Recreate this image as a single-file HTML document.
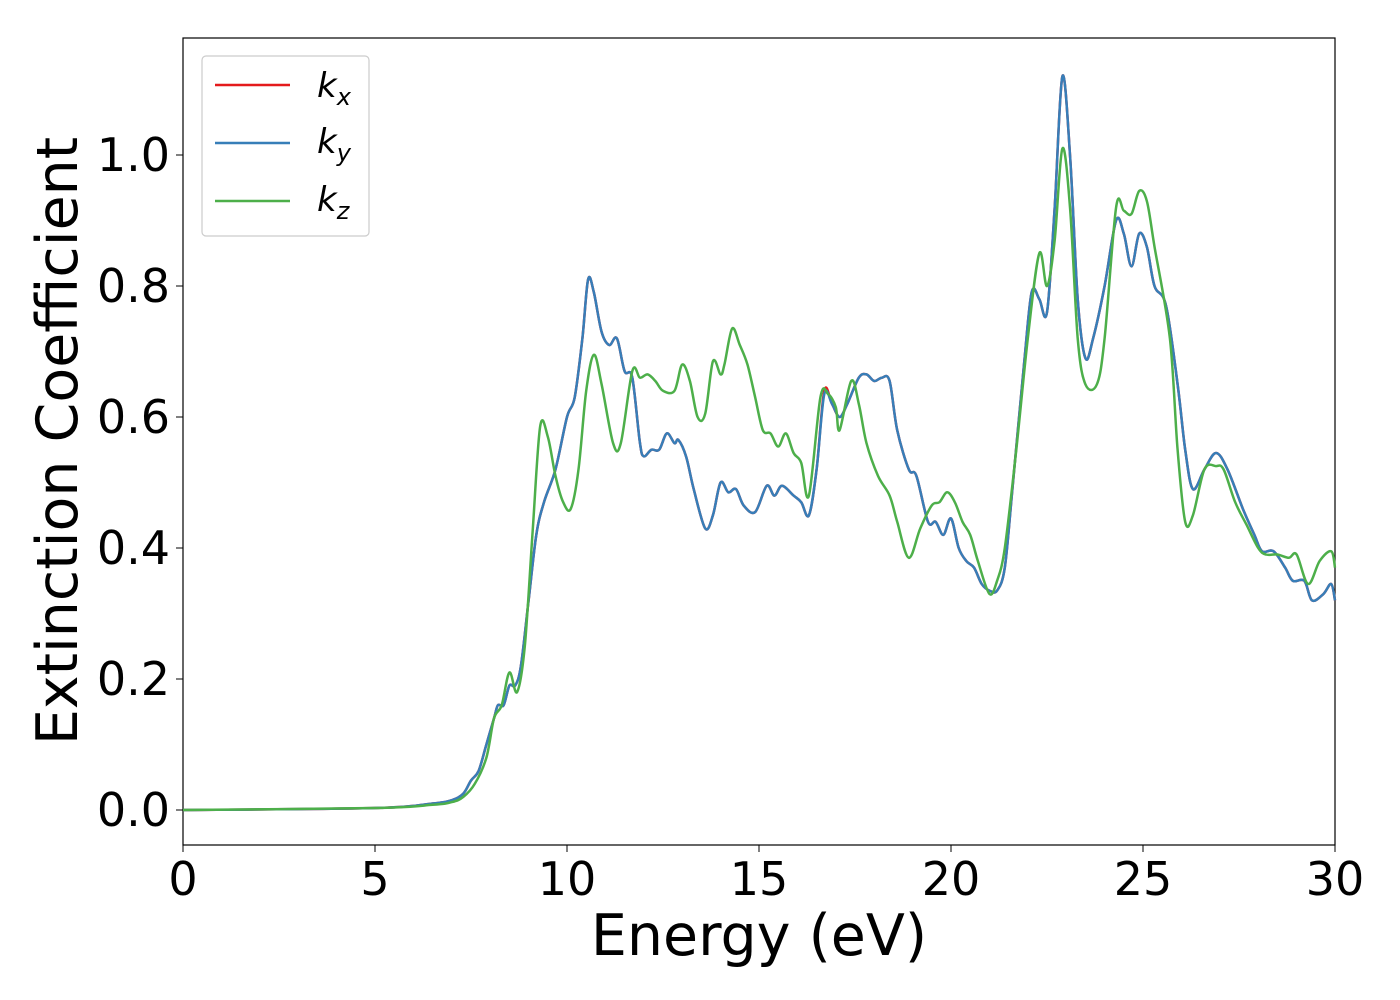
<!DOCTYPE html>
<html><head><meta charset="utf-8"><style>
html,body{margin:0;padding:0;background:#fff;}
svg{display:block;font-family:"DejaVu Sans","Liberation Sans",sans-serif;}
</style></head><body>
<svg id="chart" width="1400" height="1000" viewBox="0 0 1400 1000" xmlns="http://www.w3.org/2000/svg">
<rect x="183" y="38" width="1152" height="807" fill="#fff" stroke="#000" stroke-width="1.2"/>
<g id="xticks"></g>
<g id="yticks"></g>
<g id="lines"></g>
<text x="759" y="955" font-size="57" text-anchor="middle">Energy (eV)</text>
<text transform="translate(77,441) rotate(-90)" font-size="57" text-anchor="middle">Extinction Coefficient</text>
<g>
<rect x="202" y="56" width="167" height="180" rx="4" fill="#fff" stroke="#ccc" stroke-width="1.2"/>
<line x1="215" y1="85" x2="290" y2="85" stroke="#e41a1c" stroke-width="2.5"/>
<line x1="215" y1="143" x2="290" y2="143" stroke="#377eb8" stroke-width="2.5"/>
<line x1="215" y1="201" x2="290" y2="201" stroke="#4daf4a" stroke-width="2.5"/>
<text x="317" y="97" font-size="34" font-style="italic">k<tspan font-size="24" dy="8">x</tspan></text>
<text x="317" y="153" font-size="34" font-style="italic">k<tspan font-size="24" dy="8">y</tspan></text>
<text x="317" y="211" font-size="34" font-style="italic">k<tspan font-size="24" dy="8">z</tspan></text>
</g>
</svg>
<script>
const xTicks=[0,5,10,15,20,25,30];
const yTicks=[0.0,0.2,0.4,0.6,0.8,1.0];
const yTickLabels=["0.0","0.2","0.4","0.6","0.8","1.0"];
const energyXY=[0,5,6.5,7,7.3,7.5,7.7,7.9,8.1,8.2,8.35,8.5,8.65,8.8,9.0,9.2,9.4,9.7,10.0,10.2,10.4,10.55,10.7,10.9,11.1,11.3,11.5,11.7,11.9,12.0,12.2,12.4,12.6,12.8,12.9,13.1,13.3,13.6,13.8,14.0,14.2,14.4,14.6,14.9,15.2,15.4,15.6,15.9,16.1,16.3,16.5,16.7,16.9,17.1,17.3,17.6,17.8,18.0,18.2,18.4,18.6,18.9,19.1,19.4,19.6,19.8,20.0,20.2,20.4,20.6,20.8,21.0,21.2,21.4,21.6,21.9,22.1,22.3,22.5,22.7,22.9,23.1,23.3,23.5,23.7,24.0,24.3,24.5,24.7,24.9,25.1,25.3,25.6,25.9,26.1,26.3,26.6,26.9,27.2,27.6,27.9,28.1,28.4,28.7,28.9,29.2,29.4,29.7,29.9,30];
const kx=[0,0.003,0.01,0.015,0.025,0.045,0.06,0.1,0.14,0.16,0.16,0.19,0.19,0.22,0.32,0.42,0.47,0.52,0.6,0.63,0.72,0.81,0.79,0.73,0.71,0.72,0.67,0.66,0.56,0.54,0.55,0.55,0.575,0.56,0.565,0.54,0.49,0.43,0.45,0.5,0.485,0.49,0.465,0.455,0.495,0.48,0.495,0.48,0.47,0.45,0.52,0.64,0.62,0.6,0.62,0.66,0.665,0.655,0.66,0.655,0.58,0.52,0.51,0.44,0.44,0.42,0.445,0.4,0.38,0.37,0.345,0.335,0.335,0.37,0.49,0.68,0.79,0.78,0.76,0.92,1.12,1.0,0.78,0.69,0.72,0.8,0.9,0.88,0.83,0.88,0.86,0.8,0.77,0.65,0.55,0.49,0.52,0.545,0.52,0.46,0.42,0.395,0.395,0.37,0.35,0.35,0.32,0.33,0.345,0.32];
const ky=[0,0.003,0.01,0.015,0.025,0.045,0.06,0.1,0.14,0.16,0.16,0.19,0.19,0.22,0.32,0.42,0.47,0.52,0.6,0.63,0.72,0.81,0.79,0.73,0.71,0.72,0.67,0.66,0.56,0.54,0.55,0.55,0.575,0.56,0.565,0.54,0.49,0.43,0.45,0.5,0.485,0.49,0.465,0.455,0.495,0.48,0.495,0.48,0.47,0.45,0.52,0.635,0.62,0.6,0.62,0.66,0.665,0.655,0.66,0.655,0.58,0.52,0.51,0.44,0.44,0.42,0.445,0.4,0.38,0.37,0.345,0.335,0.335,0.37,0.49,0.68,0.79,0.78,0.76,0.92,1.12,1.0,0.78,0.69,0.72,0.8,0.9,0.88,0.83,0.88,0.86,0.8,0.77,0.65,0.55,0.49,0.52,0.545,0.52,0.46,0.42,0.395,0.395,0.37,0.35,0.35,0.32,0.33,0.345,0.32];
const energyZ=[0,5,6.5,7,7.3,7.6,7.9,8.1,8.3,8.5,8.7,8.9,9.1,9.3,9.5,9.7,9.9,10.1,10.3,10.5,10.7,10.9,11.2,11.4,11.7,11.9,12.1,12.3,12.5,12.8,13.0,13.2,13.4,13.6,13.8,14.0,14.1,14.3,14.5,14.7,14.9,15.1,15.3,15.5,15.7,15.9,16.1,16.3,16.6,16.8,17.0,17.1,17.4,17.6,17.8,18.1,18.4,18.6,18.9,19.2,19.5,19.7,19.9,20.1,20.3,20.5,20.7,21.0,21.2,21.4,21.7,22.0,22.3,22.5,22.7,22.9,23.1,23.3,23.5,23.8,24.0,24.3,24.5,24.7,24.9,25.1,25.3,25.7,25.9,26.1,26.3,26.6,26.9,27.1,27.4,27.7,28.0,28.2,28.5,28.8,29.0,29.3,29.6,29.9,30];
const kz=[0,0.003,0.008,0.012,0.02,0.04,0.08,0.14,0.16,0.21,0.18,0.25,0.42,0.585,0.57,0.51,0.47,0.46,0.52,0.64,0.695,0.65,0.56,0.56,0.67,0.66,0.665,0.655,0.64,0.64,0.68,0.655,0.6,0.605,0.685,0.665,0.68,0.735,0.71,0.68,0.63,0.58,0.575,0.555,0.575,0.545,0.53,0.48,0.63,0.635,0.615,0.58,0.655,0.62,0.56,0.51,0.48,0.44,0.385,0.43,0.465,0.47,0.485,0.47,0.44,0.42,0.38,0.33,0.35,0.4,0.55,0.72,0.85,0.8,0.87,1.01,0.92,0.72,0.65,0.65,0.72,0.92,0.915,0.91,0.945,0.93,0.86,0.72,0.55,0.44,0.45,0.52,0.525,0.52,0.47,0.435,0.4,0.39,0.39,0.385,0.39,0.345,0.38,0.395,0.37];

const NS="http://www.w3.org/2000/svg";
const X0=183,X1=1335,Y0=810,Y1=155;
function sx(v){return X0+(v-0)/(30-0)*(X1-X0);}
function sy(v){return Y0+(v-0)/(1-0)*(Y1-Y0);}
const xg=document.getElementById('xticks'),yg=document.getElementById('yticks'),lg=document.getElementById('lines');
xTicks.forEach(t=>{
  const l=document.createElementNS(NS,'line');
  
  
  l.setAttribute('x1',sx(t));l.setAttribute('x2',sx(t));l.setAttribute('y1',845);l.setAttribute('y2',852);l.setAttribute('stroke','#000');
  xg.appendChild(l);
  const tx=document.createElementNS(NS,'text');
  
  
  tx.setAttribute('x',sx(t));tx.setAttribute('y',895);tx.setAttribute('font-size','46');tx.setAttribute('text-anchor','middle');
  tx.textContent=String(t);xg.appendChild(tx);
});
yTicks.forEach((t,i)=>{
  const l=document.createElementNS(NS,'line');
  
  
  l.setAttribute('x1',176);l.setAttribute('x2',183);l.setAttribute('y1',sy(t));l.setAttribute('y2',sy(t));l.setAttribute('stroke','#000');
  yg.appendChild(l);
  const tx=document.createElementNS(NS,'text');
  
  
  tx.setAttribute('x',170);tx.setAttribute('y',sy(t)+16);tx.setAttribute('font-size','46');tx.setAttribute('text-anchor','end');
  tx.textContent=yTickLabels[i];yg.appendChild(tx);
});
function pathFor(xs,ys){
  const p=xs.map((x,i)=>[sx(x),sy(ys[i])]);
  let d='M'+p[0][0].toFixed(1)+','+p[0][1].toFixed(1);
  for(let i=0;i<p.length-1;i++){
    const a=p[Math.max(i-1,0)],b=p[i],c=p[i+1],e=p[Math.min(i+2,p.length-1)];
    const c1=[b[0]+(c[0]-a[0])/6,b[1]+(c[1]-a[1])/6],c2=[c[0]-(e[0]-b[0])/6,c[1]-(e[1]-b[1])/6];
    d+='C'+c1[0].toFixed(1)+','+c1[1].toFixed(1)+' '+c2[0].toFixed(1)+','+c2[1].toFixed(1)+' '+c[0].toFixed(1)+','+c[1].toFixed(1);
  }
  return d;
}
[[energyXY,kx,'#e41a1c','line-kx'],[energyXY,ky,'#377eb8','line-ky'],[energyZ,kz,'#4daf4a','line-kz']].forEach(s=>{
  const p=document.createElementNS(NS,'path');
  
  
  p.setAttribute('d',pathFor(s[0],s[1]));p.setAttribute('fill','none');p.setAttribute('stroke',s[2]);p.setAttribute('stroke-width','2.5');p.setAttribute('stroke-linejoin','round');
  lg.appendChild(p);
});
</script>
</body></html>
